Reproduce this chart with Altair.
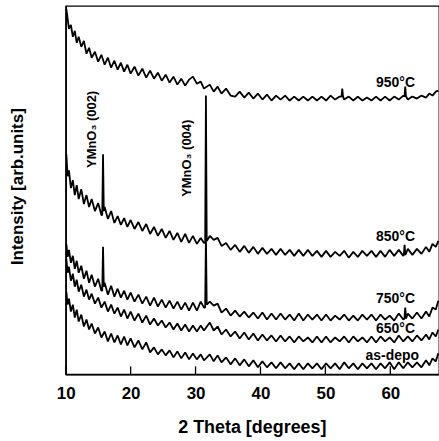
import altair as alt
import pandas as pd

two_theta = [
    10.1, 10.3, 10.5, 10.8, 11.1, 11.4, 11.7, 12.0, 12.4, 12.8,
    13.2, 13.6, 14.0, 14.5, 15.0, 15.5, 16.0, 16.5, 17.0, 17.5,
    18.0, 18.5, 19.0, 19.5, 20.0, 20.6, 21.2, 21.8, 22.4, 23.0,
    23.6, 24.2, 24.8, 25.4, 26.0, 26.6, 27.2, 27.8, 28.4, 29.0,
    29.6, 30.2, 30.8, 31.3, 32.2, 32.8, 33.4, 34.0, 34.7, 35.4,
    36.1, 36.8, 37.5, 38.2, 38.9, 39.6, 40.3, 41.0, 41.7, 42.4,
    43.1, 43.8, 44.5, 45.2, 45.9, 46.6, 47.3, 48.0, 48.7, 49.4,
    50.1, 50.8, 51.5, 52.2, 52.9, 53.6, 54.3, 55.0, 55.7, 56.4,
    57.1, 57.8, 58.5, 59.2, 59.9, 60.6, 61.3, 62.0, 62.7, 63.4,
    64.1, 64.8, 65.5, 66.0, 66.5, 67.0, 67.4,
]

# Intensities (arb. units, stacked offsets included as in the figure)
i_950 = [
    367, 357, 347, 351, 339, 345, 333, 339, 329, 335,
    322, 328, 318, 324, 314, 321, 311, 318, 308, 315,
    306, 313, 304, 311, 302, 309, 300, 307, 298, 305,
    297, 303, 295, 301, 293, 299, 291, 297, 290, 296,
    299, 292, 294, 287, 291, 284, 289, 282, 287, 280,
    279, 284, 278, 283, 277, 282, 276, 281, 275, 280,
    276, 280, 275, 279, 275, 279, 275, 279, 275, 279,
    275, 280, 276, 279, 276, 279, 275, 279, 275, 278,
    275, 279, 275, 279, 275, 279, 276, 280, 276, 279,
    277, 280, 278, 282, 280, 284, 285,
]
i_850 = [
    221, 199, 205, 187, 195, 180, 190, 176, 186, 171,
    180, 168, 176, 164, 172, 160, 168, 156, 164, 152,
    159, 150, 157, 148, 155, 146, 153, 144, 151, 141,
    148, 139, 146, 137, 144, 135, 142, 133, 141, 132,
    139, 131, 137, 132, 139, 135, 137, 129, 132, 125,
    130, 123, 129, 122, 128, 121, 127, 121, 126, 120,
    126, 120, 125, 119, 125, 119, 125, 119, 124, 118,
    124, 118, 123, 119, 124, 117, 123, 118, 124, 119,
    124, 118, 124, 118, 125, 119, 125, 119, 126, 120,
    126, 121, 128, 123, 131, 128, 134,
]
i_750 = [
    131, 118, 125, 112, 119, 106, 114, 102, 109, 96,
    104, 92, 100, 88, 96, 84, 92, 80, 89, 78,
    86, 77, 84, 75, 82, 73, 80, 71, 78, 69,
    77, 68, 75, 67, 74, 66, 73, 65, 72, 64,
    72, 64, 73, 67, 73, 69, 71, 62, 66, 59,
    64, 58, 63, 57, 62, 56, 62, 55, 61, 55,
    61, 55, 60, 54, 61, 54, 60, 55, 60, 54,
    60, 54, 59, 55, 60, 54, 59, 54, 60, 55,
    60, 54, 60, 55, 59, 54, 61, 55, 61, 56,
    62, 56, 63, 58, 67, 65, 74,
]
i_650 = [
    116, 102, 108, 94, 101, 88, 95, 83, 90, 78,
    85, 75, 81, 71, 77, 67, 73, 63, 70, 61,
    67, 58, 65, 56, 63, 54, 61, 52, 59, 50,
    56, 49, 54, 47, 52, 45, 51, 44, 50, 43,
    49, 43, 49, 44, 52, 44, 48, 40, 45, 38,
    43, 36, 42, 35, 41, 34, 40, 34, 39, 33,
    39, 33, 38, 32, 38, 33, 37, 32, 38, 32,
    38, 32, 37, 33, 38, 32, 38, 33, 37, 32,
    38, 32, 38, 33, 37, 32, 39, 33, 38, 33,
    39, 34, 40, 35, 42, 38, 45,
]
i_asdepo = [
    83, 70, 76, 63, 70, 57, 65, 53, 60, 48,
    55, 45, 51, 41, 47, 37, 43, 33, 41, 32,
    39, 30, 38, 29, 36, 27, 34, 25, 32, 22,
    27, 20, 25, 19, 24, 17, 23, 16, 22, 15,
    21, 15, 20, 14, 20, 13, 19, 12, 17, 10,
    16, 9, 15, 8, 14, 7, 13, 7, 12, 6,
    12, 6, 11, 5, 11, 5, 11, 6, 11, 5,
    11, 6, 11, 5, 12, 6, 11, 5, 11, 6,
    11, 5, 11, 6, 12, 5, 12, 6, 12, 7,
    12, 7, 14, 9, 16, 13, 21,
]

series_names = ["950°C", "850°C", "750°C", "650°C", "as-depo"]
series_values = [i_950, i_850, i_750, i_650, i_asdepo]

# Sharp diffraction peaks / spikes
peak_series = ["950°C", "950°C", "850°C", "850°C", "850°C", "750°C", "750°C", "750°C"]
peak_pos = [52.6, 62.3, 15.75, 31.6, 62.2, 15.75, 31.6, 62.3]
peak_top = [287, 289, 221, 280, 130, 128, 140, 67]
peak_base_left = [279, 279, 160, 132, 120, 84, 67, 56]
peak_base_right = [279, 279, 164, 134, 120, 88, 70, 56]
PEAK_HALF_WIDTH = 0.12

# Curve labels
label_text = ["950°C", "850°C", "750°C", "650°C", "as-depo"]
label_x = [60.8, 60.8, 60.8, 60.8, 60.3]
label_y = [293, 138, 76, 45, 18]

# Reflection labels
refl_text = ["YMnO₃ (002)", "YMnO₃ (004)"]
refl_x = [14.0, 28.7]
refl_y = [246, 217]

tick_values = [10, 20, 30, 40, 50, 60]

rows = []
for name, vals in zip(series_names, series_values):
    assert len(vals) == len(two_theta), (name, len(vals))
    for x, y in zip(two_theta, vals):
        rows.append({"series": name, "theta": x, "intensity": y})
for s, p, t, bl, br in zip(peak_series, peak_pos, peak_top, peak_base_left, peak_base_right):
    rows.append({"series": s, "theta": p - PEAK_HALF_WIDTH, "intensity": bl})
    rows.append({"series": s, "theta": p, "intensity": t})
    rows.append({"series": s, "theta": p + PEAK_HALF_WIDTH, "intensity": br})
df = pd.DataFrame(rows).sort_values(["series", "theta"])

labels_df = pd.DataFrame({"text": label_text, "theta": label_x, "intensity": label_y})
refl_df = pd.DataFrame({"text": refl_text, "theta": refl_x, "intensity": refl_y})
ticks_df = pd.DataFrame({"tick": tick_values})

FONT = "Liberation Sans"
W, H = 375, 370

xscale = alt.Scale(domain=[10, 67.5], nice=False, zero=False)
yscale = alt.Scale(domain=[0, 370], nice=False, zero=False)

x_axis = alt.Axis(
    values=tick_values, format="d", ticks=False, grid=False, labelFlush=False,
    labelFont=FONT, labelFontWeight="bold", labelFontSize=17, labelColor="black",
    labelPadding=11, domainColor="black", domainWidth=1.5,
    title="2 Theta [degrees]", titleFont=FONT, titleFontWeight="bold",
    titleFontSize=18, titleColor="black", titleX=187, titleY=53,
    titleAlign="center", titleBaseline="middle",
)
y_axis = alt.Axis(
    labels=False, ticks=False, grid=False, domainColor="black", domainWidth=1.5,
    title="Intensity [arb.units]", titleFont=FONT, titleFontWeight="bold",
    titleFontSize=17, titleColor="black", titleX=-48, titleY=181,
    titleAngle=270, titleAlign="center", titleBaseline="middle",
)

lines = alt.Chart(df).mark_line(
    color="black", strokeWidth=1.8, strokeJoin="bevel", clip=True
).encode(
    x=alt.X("theta:Q", scale=xscale, axis=x_axis),
    y=alt.Y("intensity:Q", scale=yscale, axis=y_axis),
    detail="series:N",
    order="theta:Q",
)

ticks = alt.Chart(ticks_df).mark_rule(color="black", strokeWidth=1.3).encode(
    x=alt.X("tick:Q", scale=xscale),
    y=alt.value(H),
    y2=alt.value(H - 8),
)

labels = alt.Chart(labels_df).mark_text(
    font=FONT, fontWeight="bold", fontSize=14, color="black", align="center", baseline="middle"
).encode(
    x=alt.X("theta:Q", scale=xscale),
    y=alt.Y("intensity:Q", scale=yscale),
    text="text:N",
)

refl = alt.Chart(refl_df).mark_text(
    font=FONT, fontWeight="bold", fontSize=13, color="black", angle=270,
    align="center", baseline="middle"
).encode(
    x=alt.X("theta:Q", scale=xscale),
    y=alt.Y("intensity:Q", scale=yscale),
    text="text:N",
)

chart = alt.layer(lines, ticks, labels, refl).properties(
    width=W, height=H,
    autosize=alt.AutoSizeParams(type="none"),
    padding={"left": 66, "top": 5, "right": 0, "bottom": 66},
).configure_view(stroke="black", strokeWidth=1.3)

chart.save("out.html", embed_options={"renderer": "svg", "actions": False})
